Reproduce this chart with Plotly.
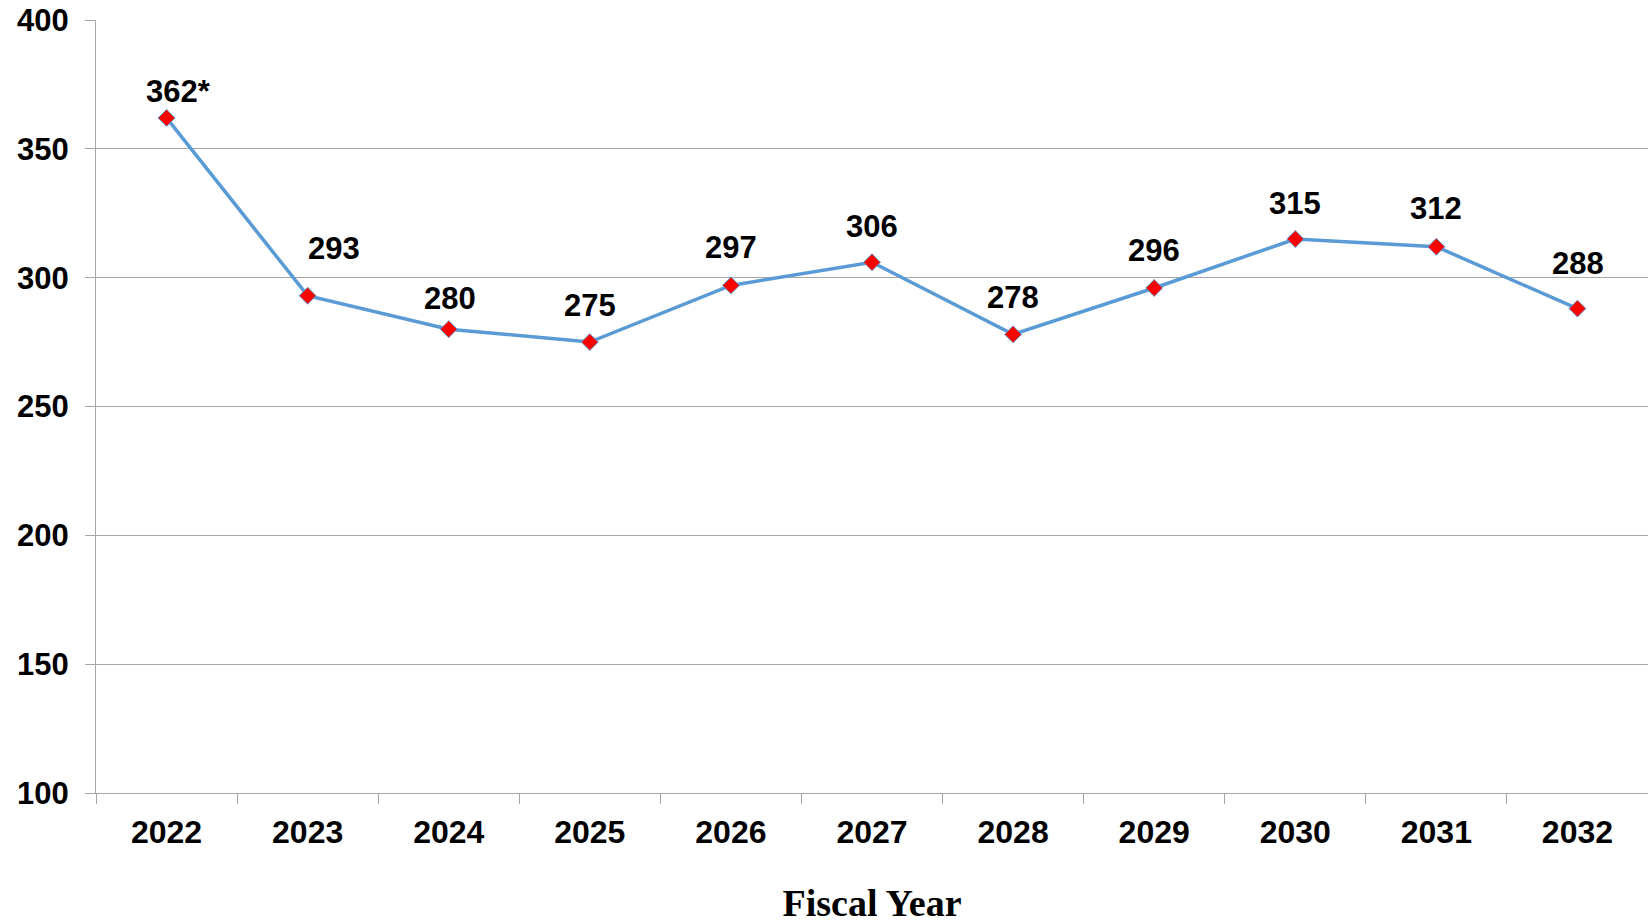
import plotly.graph_objects as go

# Fiscal years and projected values
years = ["2022", "2023", "2024", "2025", "2026", "2027", "2028", "2029", "2030", "2031", "2032"]
values = [362, 293, 280, 275, 297, 306, 278, 296, 315, 312, 288]
notes = ["*", "", "", "", "", "", "", "", "", "", ""]

# Value-label placement relative to each marker (pixels)
label_dx = [12, 26, 1, 0, 0, 0, 0, 0, 0, 0, 1]
label_dy = [26, 47, 31, 37, 38, 36, 37, 37, 36, 38, 45]

LINE_BLUE = "#5B9BD5"
GRID = "#A6A6A6"
SANS = "Arial, Liberation Sans, sans-serif"
SERIF = "Times New Roman, Liberation Serif, serif"

fig = go.Figure()
fig.add_trace(go.Scatter(
    x=years,
    y=values,
    mode="lines+markers",
    line=dict(color=LINE_BLUE, width=3.5),
    marker=dict(symbol="diamond", size=13, color="#FF0000",
                line=dict(color=LINE_BLUE, width=1)),
    hoverinfo="x+y",
    showlegend=False,
))

# On a category axis, annotations are placed by category index
for i, (v, note, dx, dy) in enumerate(zip(values, notes, label_dx, label_dy)):
    fig.add_annotation(
        x=i, y=v, xref="x", yref="y",
        text=f"{v}{note}",
        showarrow=False,
        xshift=dx, yshift=dy,
        font=dict(family=SANS, size=31, color="black", weight="bold"),
    )

fig.update_layout(
    width=1648,
    height=924,
    margin=dict(l=96, r=0, t=20, b=131),
    paper_bgcolor="white",
    plot_bgcolor="white",
    font=dict(family=SANS, color="black"),
)

fig.update_xaxes(
    type="category",
    range=[-0.5, len(years) - 0.5],
    showline=True, linecolor=GRID, linewidth=1.3,
    ticks="outside", ticklen=10, tickcolor=GRID, tickwidth=1.3,
    tickson="boundaries",
    showgrid=False,
    tickangle=0,
    tickfont=dict(family=SANS, size=32, color="black", weight="bold"),
    ticklabelstandoff=10,
    title=dict(text="Fiscal Year", standoff=46,
               font=dict(family=SERIF, size=38, color="black", weight="bold")),
)

fig.update_yaxes(
    range=[100, 400],
    dtick=50,
    showline=True, linecolor=GRID, linewidth=1.3,
    ticks="outside", ticklen=10, tickcolor=GRID, tickwidth=1.3,
    showgrid=True, gridcolor=GRID, gridwidth=1.3,
    zeroline=False,
    tickfont=dict(family=SANS, size=31, color="black", weight="bold"),
    ticklabelstandoff=10,
)

fig.write_html("out.html")
